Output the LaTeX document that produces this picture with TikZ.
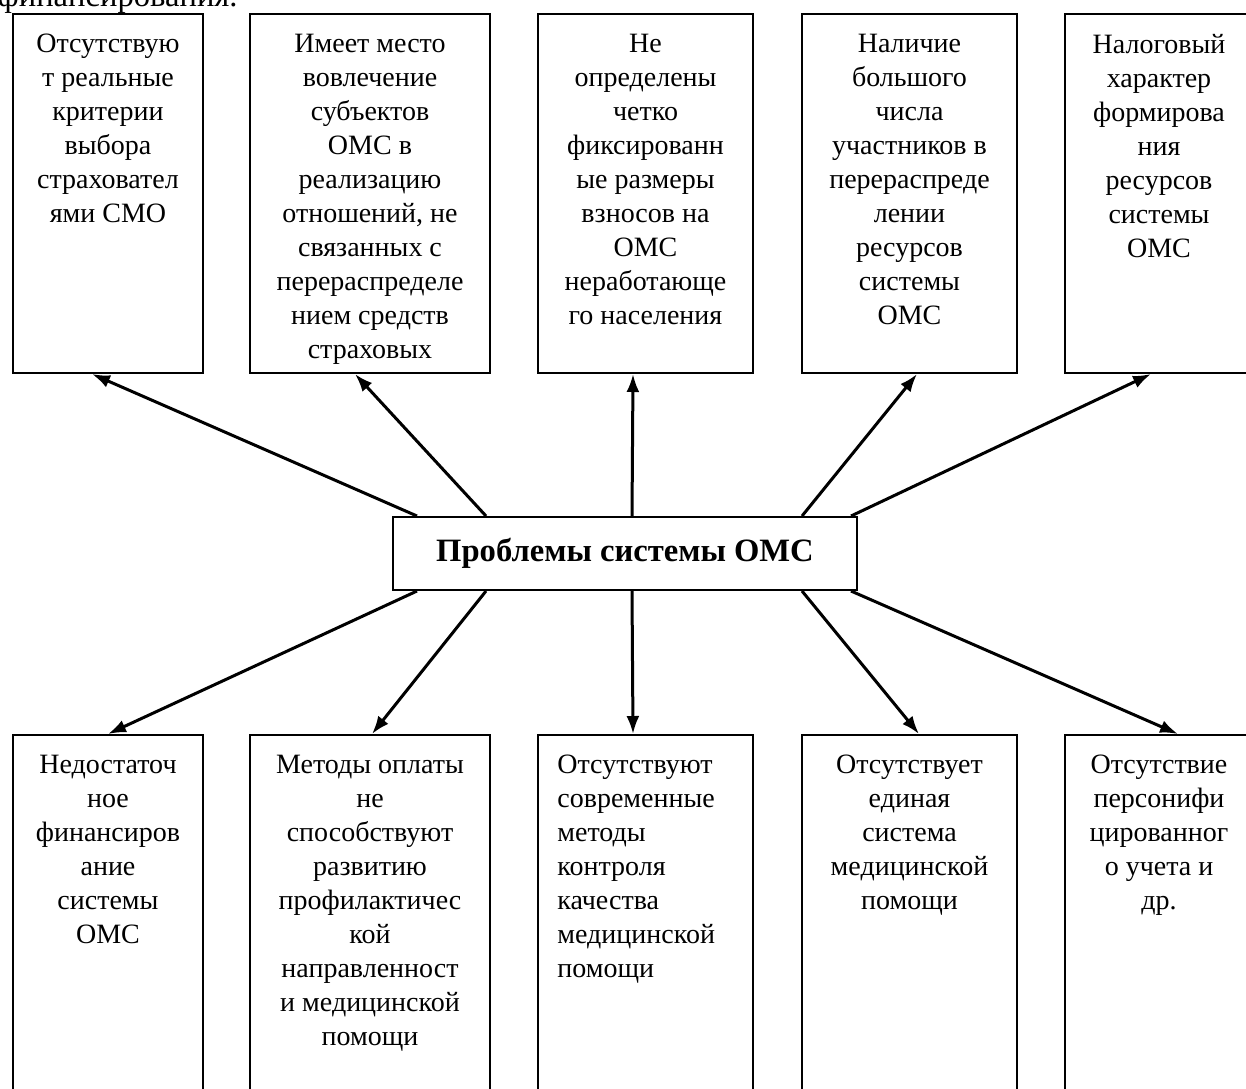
\documentclass[tikz,border=0pt]{standalone}
\usepackage{fontspec}
\setmainfont{Liberation Serif}
\usetikzlibrary{arrows.meta}

\tikzset{
  problem/.style = {draw, line width = 1pt, inner sep = 0pt, anchor = north west},
  problemText/.style = {align = center, inner sep = 0pt, anchor = north, font = \fontsize{14pt}{17pt}\selectfont},
  link/.style = {-{Latex[length = 9pt, width = 6.5pt]}, line width = 1.5pt},
}

\begin{document}
\begin{tikzpicture}[x = 0.5pt, y = -0.5pt]
    \useasboundingbox (0,0) rectangle (1246,1088);
    \clip (0,0) rectangle (1246,1088);

    % end of the text line above the scheme
    \node[anchor = base east, inner sep = 0pt, font = \fontsize{16.3pt}{19pt}\selectfont](prevLine) at (238,6) {финансирования.};

    % upper row
    \node[problem, minimum width = 95pt, minimum height = 179.5pt](noCriteria) at (12,13) {};
    \node[problem, minimum width = 120pt, minimum height = 179.5pt](extraRelations) at (249,13) {};
    \node[problem, minimum width = 107.5pt, minimum height = 179.5pt](contributionSize) at (537,13) {};
    \node[problem, minimum width = 107.5pt, minimum height = 179.5pt](manyParticipants) at (801,13) {};
    \node[problem, minimum width = 94pt, minimum height = 179.5pt](taxNature) at (1064,13) {};

    \node[problemText] at ([yshift = -10.5pt]noCriteria.north) {Отсутствую\\т реальные\\критерии\\выбора\\страховател\\ями СМО};
    \node[problemText] at ([yshift = -10.5pt]extraRelations.north) {Имеет место\\вовлечение\\субъектов\\ОМС в\\реализацию\\отношений, не\\связанных с\\перераспределе\\нием средств\\страховых};
    \node[problemText] at ([yshift = -10.5pt]contributionSize.north) {Не\\определены\\четко\\фиксированн\\ые размеры\\взносов на\\ОМС\\неработающе\\го населения};
    \node[problemText] at ([yshift = -10.5pt]manyParticipants.north) {Наличие\\большого\\числа\\участников в\\перераспреде\\лении\\ресурсов\\системы\\ОМС};
    \node[problemText] at ([yshift = -10.5pt]taxNature.north) {Налоговый\\характер\\формирова\\ния\\ресурсов\\системы\\ОМС};

    % centre
    \node[problem, anchor = center, minimum width = 232pt, minimum height = 36.5pt, font = \bfseries\fontsize{16.3pt}{19pt}\selectfont](problems) at (625,553.5) {Проблемы системы ОМС};

    % lower row
    \node[problem, minimum width = 95pt, minimum height = 200pt](lowFunding) at (12,734) {};
    \node[problem, minimum width = 120pt, minimum height = 200pt](paymentMethods) at (249,734) {};
    \node[problem, minimum width = 107.5pt, minimum height = 200pt](qualityControl) at (537,734) {};
    \node[problem, minimum width = 107.5pt, minimum height = 200pt](unifiedSystem) at (801,734) {};
    \node[problem, minimum width = 94pt, minimum height = 200pt](personalRecords) at (1064,734) {};

    \node[problemText] at ([yshift = -10.5pt]lowFunding.north) {Недостаточ\\ное\\финансиров\\ание\\системы\\ОМС};
    \node[problemText] at ([yshift = -10.5pt]paymentMethods.north) {Методы оплаты\\не\\способствуют\\развитию\\профилактичес\\кой\\направленност\\и медицинской\\помощи};
    \node[problemText, align = left, anchor = north west] at ([xshift = 10pt, yshift = -10.5pt]qualityControl.north west) {Отсутствуют\\современные\\методы\\контроля\\качества\\медицинской\\помощи};
    \node[problemText] at ([yshift = -10.5pt]unifiedSystem.north) {Отсутствует\\единая\\система\\медицинской\\помощи};
    \node[problemText] at ([yshift = -10.5pt]personalRecords.north) {Отсутствие\\персонифи\\цированног\\о учета и\\др.};

    % arrows up
    \draw[link] ([xshift = 12.5pt]problems.north west) -- ([xshift = -8pt]noCriteria.south);
    \draw[link] ([xshift = 47pt]problems.north west) -- ([xshift = -7.5pt]extraRelations.south);
    \draw[link] ([xshift = 3.5pt]problems.north) -- ([xshift = -6.25pt]contributionSize.south);
    \draw[link] ([xshift = -28pt]problems.north east) -- ([xshift = 3.75pt]manyParticipants.south);
    \draw[link] ([xshift = -3.5pt]problems.north east) -- ([xshift = -4pt]taxNature.south);

    % arrows down
    \draw[link] ([xshift = 12.5pt]problems.south west) -- (lowFunding.north);
    \draw[link] ([xshift = 47pt]problems.south west) -- ([xshift = 1pt]paymentMethods.north);
    \draw[link] ([xshift = 3.5pt]problems.south) -- ([xshift = -6.25pt]qualityControl.north);
    \draw[link] ([xshift = -28pt]problems.south east) -- ([xshift = 4.75pt]unifiedSystem.north);
    \draw[link] ([xshift = -3.5pt]problems.south east) -- ([xshift = 9.5pt]personalRecords.north);
\end{tikzpicture}
\end{document}
